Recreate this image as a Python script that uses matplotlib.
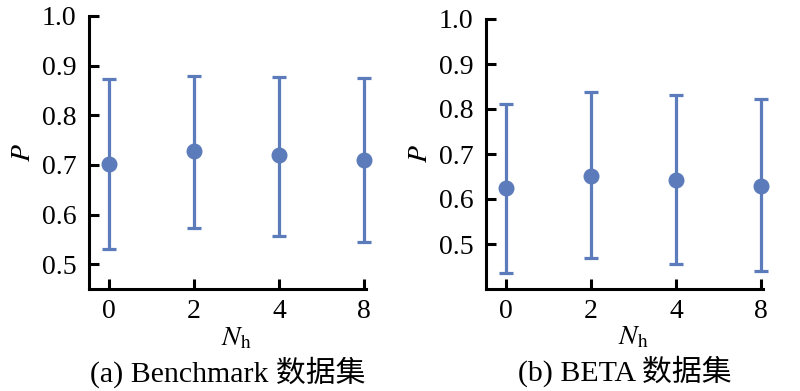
import numpy as np
import matplotlib
matplotlib.use("Agg")
import matplotlib.pyplot as plt

plt.rcParams["font.family"] = ["Liberation Serif", "Noto Sans CJK SC"]
plt.rcParams["mathtext.fontset"] = "stix"

# --- Daten ---
nh_labels = ["0", "2", "4", "8"]

bench_mean = [0.702, 0.728, 0.719, 0.710]
bench_low  = [0.530, 0.573, 0.556, 0.544]
bench_high = [0.873, 0.879, 0.877, 0.875]

beta_mean = [0.624, 0.652, 0.643, 0.630]
beta_low  = [0.436, 0.469, 0.455, 0.440]
beta_high = [0.812, 0.838, 0.831, 0.822]

yticks = [0.5, 0.6, 0.7, 0.8, 0.9, 1.0]

COLOR = "#5B7BBA"

fig = plt.figure(figsize=(8, 3.91), dpi=100)
ax1 = fig.add_axes([89 / 800, 1 - 289 / 391, 277 / 800, 273 / 391])
ax2 = fig.add_axes([486 / 800, 1 - 289 / 391, 277 / 800, 270 / 391])

panels = [
    (ax1, bench_mean, bench_low, bench_high, (0.45, 1.0), "(a) Benchmark 数据集"),
    (ax2, beta_mean, beta_low, beta_high, (0.40, 1.0), "(b) BETA 数据集"),
]

for ax, mean, low, high, ylim, caption in panels:
    x = np.arange(len(nh_labels))
    mean = np.array(mean)
    yerr = [mean - np.array(low), np.array(high) - mean]
    ax.errorbar(x, mean, yerr=yerr, fmt="o", color=COLOR, ms=10.5,
                elinewidth=2.3, capsize=5, capthick=2.3, clip_on=False)
    ax.set_xlim(-0.235, 3.02)
    ax.set_ylim(*ylim)
    ax.set_yticks(yticks)
    ax.set_yticklabels([f"{v:.1f}" for v in yticks])
    ax.set_xticks(x)
    ax.set_xticklabels(nh_labels)
    ax.spines[["top", "right"]].set_visible(False)
    for s in ["left", "bottom"]:
        ax.spines[s].set_linewidth(2.2)
    ax.tick_params(direction="in", length=7, width=2.2, labelsize=20)
    ax.tick_params(axis="y", pad=9)
    ax.tick_params(axis="x", pad=7)
    ax.text(-0.235, 0.5, "$P$", transform=ax.transAxes, rotation=90,
            ha="center", va="center", fontsize=20)
    ax.text(0.53, -0.18, "$N_{\\mathrm{h}}$", transform=ax.transAxes,
            ha="center", va="center", fontsize=20)
    ax.text(0.5, -0.305, caption, transform=ax.transAxes, ha="center",
            va="center", fontsize=21.5)

fig.savefig("out.png", dpi=100)
